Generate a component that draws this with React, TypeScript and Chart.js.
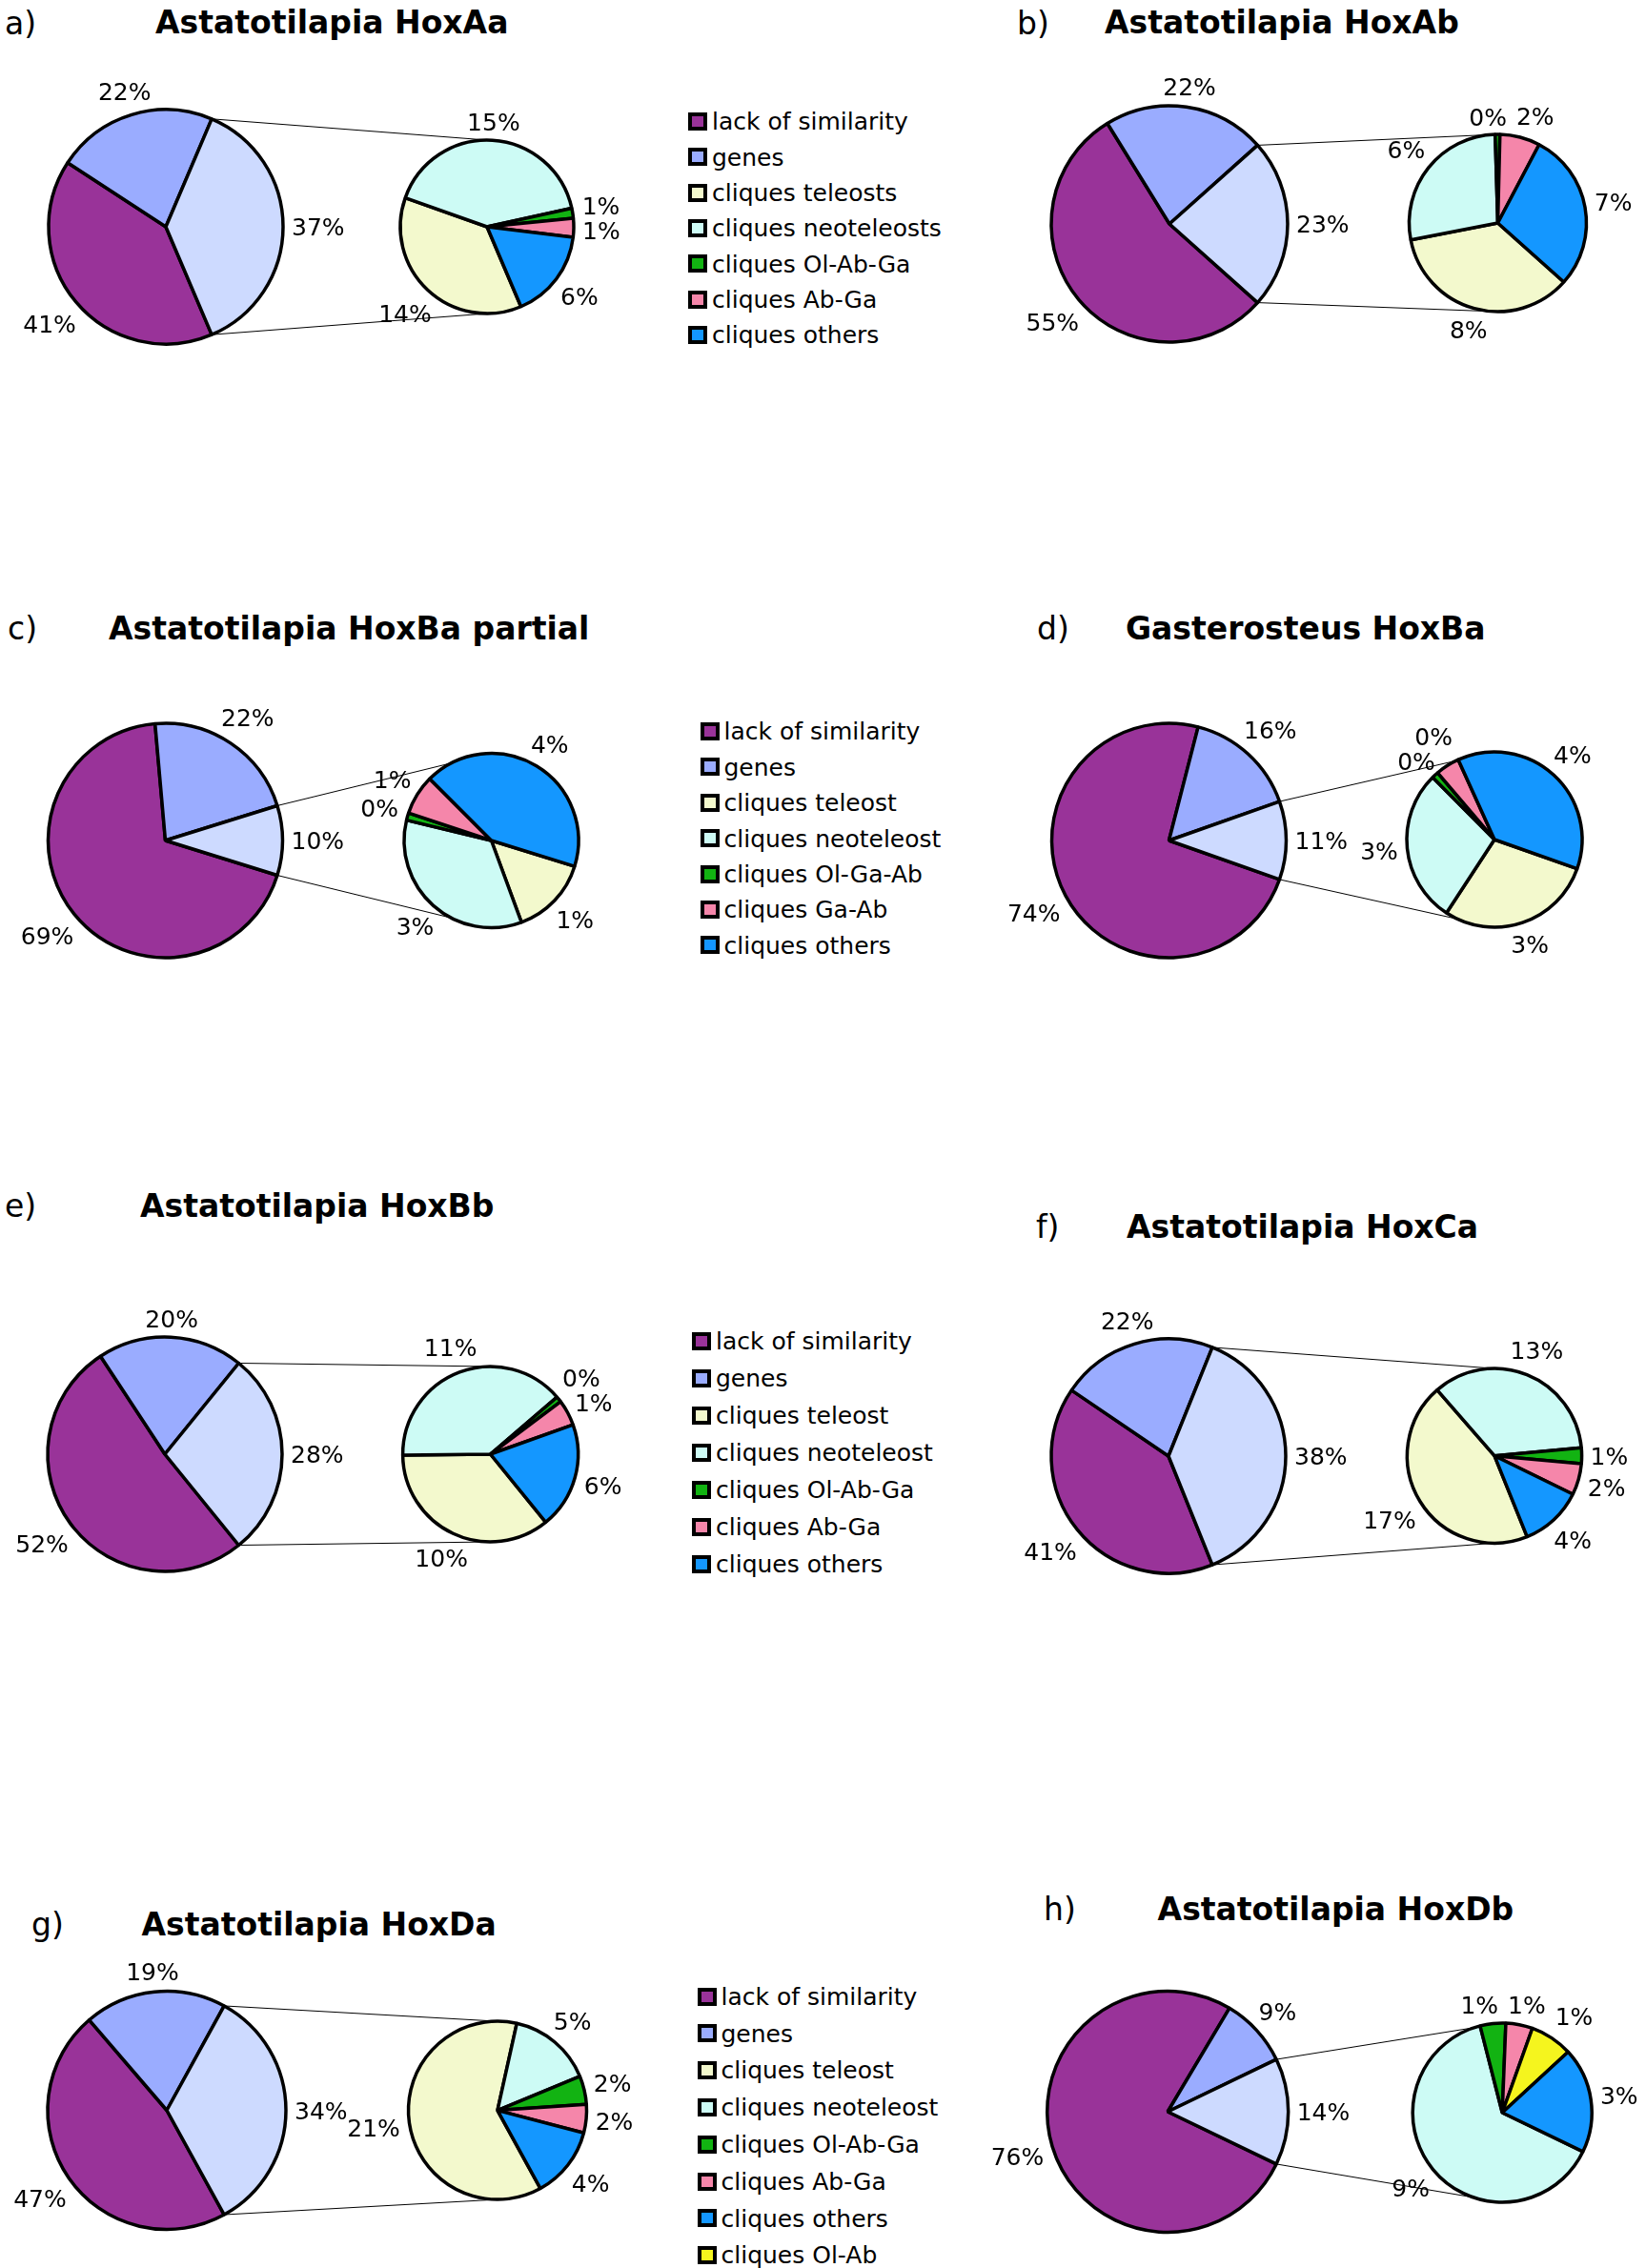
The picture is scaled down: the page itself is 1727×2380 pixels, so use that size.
import React, { useEffect, useRef } from "react";
import { Chart, registerables } from "chart.js";

Chart.register(...registerables);

const FONT = "'DejaVu Sans', Verdana, sans-serif";

// ---------- data ----------
const mainCategories = ["lack of similarity", "genes", "cliques"];

// a) Astatotilapia HoxAa
const mainA = [40.6, 22.2, 37.2];
const subCatsA = ["cliques teleosts", "cliques neoteleosts", "cliques Ol-Ab-Ga", "cliques Ab-Ga", "cliques others"];
const subA = [13.7, 15.3, 0.7, 1.3, 6.2];

// b) Astatotilapia HoxAb
const mainB = [54.6, 22.2, 23.2];
const subCatsB = ["cliques teleosts", "cliques neoteleosts", "cliques Ol-Ab-Ga", "cliques Ab-Ga", "cliques others"];
const subB = [8.2, 6.4, 0.2, 1.7, 6.7];

// c) Astatotilapia HoxBa partial
const mainC = [68.8, 21.6, 9.6];
const subCatsC = ["cliques teleost", "cliques neoteleost", "cliques Ol-Ga-Ab", "cliques Ga-Ab", "cliques others"];
const subC = [1.4, 3.3, 0.13, 0.71, 4.06];

// d) Gasterosteus HoxBa
const mainD = [73.6, 15.6, 10.8];
const subCatsD = ["cliques teleost", "cliques neoteleost", "cliques Ol-Ga-Ab", "cliques Ga-Ab", "cliques others"];
const subD = [3.1, 3.05, 0.13, 0.48, 4.0];

// e) Astatotilapia HoxBb
const mainE = [51.6, 20.1, 28.3];
const subCatsE = ["cliques teleost", "cliques neoteleost", "cliques Ol-Ab-Ga", "cliques Ab-Ga", "cliques others"];
const subE = [10.1, 11.0, 0.3, 1.35, 5.55];

// f) Astatotilapia HoxCa
const mainF = [40.6, 21.6, 37.8];
const subCatsF = ["cliques teleost", "cliques neoteleost", "cliques Ol-Ab-Ga", "cliques Ab-Ga", "cliques others"];
const subF = [16.9, 13.2, 1.1, 2.2, 4.4];

// g) Astatotilapia HoxDa
const mainG = [46.7, 19.3, 34.0];
const subCatsG = ["cliques teleost", "cliques neoteleost", "cliques Ol-Ab-Ga", "cliques Ab-Ga", "cliques others"];
const subG = [20.9, 5.2, 1.75, 1.75, 4.4];

// h) Astatotilapia HoxDb
const mainH = [76.4, 9.3, 14.3];
const subCatsH = ["cliques neoteleost", "cliques Ol-Ab-Ga", "cliques Ab-Ga", "cliques Ol-Ab", "cliques others"];
const subH = [9.14, 0.66, 0.69, 1.1, 2.72];

// legends
const legendA = ["lack of similarity", "genes", "cliques teleosts", "cliques neoteleosts", "cliques Ol-Ab-Ga", "cliques Ab-Ga", "cliques others"];
const legendC = ["lack of similarity", "genes", "cliques teleost", "cliques neoteleost", "cliques Ol-Ga-Ab", "cliques Ga-Ab", "cliques others"];
const legendE = ["lack of similarity", "genes", "cliques teleost", "cliques neoteleost", "cliques Ol-Ab-Ga", "cliques Ab-Ga", "cliques others"];
const legendG = ["lack of similarity", "genes", "cliques teleost", "cliques neoteleost", "cliques Ol-Ab-Ga", "cliques Ab-Ga", "cliques others", "cliques Ol-Ab"];

// ---------- styles ----------
const COLORS: Record<string, string> = {
  "lack of similarity": "#993399",
  genes: "#9AACFF",
  cliques: "#CDDAFF",
  "cliques teleosts": "#F3F9CD",
  "cliques teleost": "#F3F9CD",
  "cliques neoteleosts": "#CDFBF5",
  "cliques neoteleost": "#CDFBF5",
  "cliques Ol-Ab-Ga": "#12B312",
  "cliques Ol-Ga-Ab": "#12B312",
  "cliques Ab-Ga": "#F586AA",
  "cliques Ga-Ab": "#F586AA",
  "cliques others": "#1497FF",
  "cliques Ol-Ab": "#F5F51E",
};

type PieGeom = { cx: number; cy: number; r: number };
type PanelCfg = {
  id: string;
  box: { x: number; y: number; w: number; h: number };
  main: PieGeom;
  sub: PieGeom;
  mainData: number[];
  subCats: string[];
  subData: number[];
  letter: { t: string; x: number; base: number };
  title: { t: string; x: number; base: number };
  legend?: { cats: string[]; x: number; y0: number; dy: number };
};

const panels: PanelCfg[] = [
  {
    id: "a", box: { x: 0, y: 50, w: 720, h: 350 },
    main: { cx: 174, cy: 238, r: 123 }, sub: { cx: 511, cy: 238, r: 91 },
    mainData: mainA, subCats: subCatsA, subData: subA,
    letter: { t: "a)", x: 5, base: 36 }, title: { t: "Astatotilapia HoxAa", x: 163, base: 35 },
    legend: { cats: legendA, x: 722, y0: 127.5, dy: 37.3 },
  },
  {
    id: "b", box: { x: 1020, y: 50, w: 707, h: 350 },
    main: { cx: 1227, cy: 235, r: 124 }, sub: { cx: 1571.5, cy: 234, r: 93 },
    mainData: mainB, subCats: subCatsB, subData: subB,
    letter: { t: "b)", x: 1067, base: 36 }, title: { t: "Astatotilapia HoxAb", x: 1159, base: 35 },
  },
  {
    id: "c", box: { x: 0, y: 690, w: 730, h: 380 },
    main: { cx: 173.5, cy: 882, r: 123 }, sub: { cx: 515.5, cy: 882, r: 91.5 },
    mainData: mainC, subCats: subCatsC, subData: subC,
    letter: { t: "c)", x: 8, base: 671 }, title: { t: "Astatotilapia HoxBa partial", x: 114, base: 671 },
    legend: { cats: legendC, x: 734.5, y0: 767.5, dy: 37.4 },
  },
  {
    id: "d", box: { x: 1020, y: 690, w: 707, h: 380 },
    main: { cx: 1226.5, cy: 882, r: 123 }, sub: { cx: 1568, cy: 881, r: 92 },
    mainData: mainD, subCats: subCatsD, subData: subD,
    letter: { t: "d)", x: 1088, base: 671 }, title: { t: "Gasterosteus HoxBa", x: 1181, base: 671 },
  },
  {
    id: "e", box: { x: 0, y: 1340, w: 720, h: 380 },
    main: { cx: 173, cy: 1526, r: 123 }, sub: { cx: 514.6, cy: 1526, r: 92 },
    mainData: mainE, subCats: subCatsE, subData: subE,
    letter: { t: "e)", x: 5, base: 1277 }, title: { t: "Astatotilapia HoxBb", x: 147, base: 1277 },
    legend: { cats: legendE, x: 726, y0: 1407.6, dy: 39 },
  },
  {
    id: "f", box: { x: 1020, y: 1340, w: 707, h: 380 },
    main: { cx: 1226, cy: 1528, r: 123 }, sub: { cx: 1568, cy: 1527.7, r: 91.6 },
    mainData: mainF, subCats: subCatsF, subData: subF,
    letter: { t: "f)", x: 1087, base: 1299 }, title: { t: "Astatotilapia HoxCa", x: 1182, base: 1299 },
  },
  {
    id: "g", box: { x: 0, y: 2040, w: 725, h: 340 },
    main: { cx: 175, cy: 2214.5, r: 125 }, sub: { cx: 522, cy: 2214.6, r: 93.5 },
    mainData: mainG, subCats: subCatsG, subData: subG,
    letter: { t: "g)", x: 33, base: 2031 }, title: { t: "Astatotilapia HoxDa", x: 148.5, base: 2031 },
    legend: { cats: legendG, x: 731.5, y0: 2095, dy: 38.8 },
  },
  {
    id: "h", box: { x: 1020, y: 2040, w: 707, h: 340 },
    main: { cx: 1225.2, cy: 2216, r: 126.5 }, sub: { cx: 1576.2, cy: 2217, r: 94 },
    mainData: mainH, subCats: subCatsH, subData: subH,
    letter: { t: "h)", x: 1095, base: 2015 }, title: { t: "Astatotilapia HoxDb", x: 1214.6, base: 2015 },
  },
];

// ---------- plugins ----------
function makeLabelPlugin() {
  return {
    id: "pctLabels",
    afterDatasetsDraw(chart: any) {
      const meta = chart.getDatasetMeta(0);
      const data = chart.data.datasets[0].data as number[];
      const ctx = chart.ctx as CanvasRenderingContext2D;
      ctx.save();
      ctx.font = `25px ${FONT}`;
      const items = meta.data.map((arc: any, i: number) => {
        const p = arc.getProps(["x", "y", "startAngle", "endAngle", "outerRadius"], true);
        const text = Math.round(data[i]) + "%";
        const w = ctx.measureText(text).width;
        const mid = (p.startAngle + p.endAngle) / 2;
        const dx = Math.cos(mid);
        const dy = Math.sin(mid);
        const ext = (Math.abs(dx) * w) / 2 + (Math.abs(dy) * 18) / 2;
        const d = p.outerRadius + 9 + ext;
        return { text, w, h: 24, x: p.x + dx * d, y: p.y + dy * d };
      });
      for (let it = 0; it < 40; it++) {
        let moved = false;
        for (let i = 0; i < items.length; i++) {
          for (let j = i + 1; j < items.length; j++) {
            const a = items[i];
            const b = items[j];
            const ox = (a.w + b.w) / 2 + 10 - Math.abs(a.x - b.x);
            const oy = (a.h + b.h) / 2 + 2 - Math.abs(a.y - b.y);
            if (ox > 0.1 && oy > 0.1) {
              if (ox < oy) {
                const s = ((a.x <= b.x ? -1 : 1) * ox) / 2;
                a.x += s;
                b.x -= s;
              } else {
                const s = ((a.y <= b.y ? -1 : 1) * oy) / 2;
                a.y += s;
                b.y -= s;
              }
              moved = true;
            }
          }
        }
        if (!moved) break;
      }
      ctx.fillStyle = "#000";
      ctx.textAlign = "center";
      ctx.textBaseline = "alphabetic";
      items.forEach((t: any) => ctx.fillText(t.text, t.x, t.y + 9));
      ctx.restore();
    },
  };
}

function makeConnectorPlugin(main: Chart) {
  return {
    id: "connectors",
    beforeDatasetsDraw(chart: any) {
      const mArc: any = main.getDatasetMeta(0).data[2];
      const sArc: any = chart.getDatasetMeta(0).data[0];
      if (!mArc || !sArc) return;
      const m = mArc.getProps(["x", "y", "startAngle", "endAngle", "outerRadius"], true);
      const s = sArc.getProps(["x", "y", "outerRadius"], true);
      const ctx = chart.ctx as CanvasRenderingContext2D;
      ctx.save();
      ctx.strokeStyle = "#000";
      ctx.lineWidth = 1;
      ctx.beginPath();
      ctx.moveTo(m.x + m.outerRadius * Math.cos(m.startAngle), m.y + m.outerRadius * Math.sin(m.startAngle));
      ctx.lineTo(s.x, s.y - s.outerRadius);
      ctx.moveTo(m.x + m.outerRadius * Math.cos(m.endAngle), m.y + m.outerRadius * Math.sin(m.endAngle));
      ctx.lineTo(s.x, s.y + s.outerRadius);
      ctx.stroke();
      ctx.restore();
    },
  };
}

function pieConfig(cfg: PanelCfg, geom: PieGeom, labels: string[], values: number[], rotation: number, plugins: any[]) {
  const lx = geom.cx - cfg.box.x;
  const ly = geom.cy - cfg.box.y;
  const half = geom.r + 4;
  return {
    type: "pie" as const,
    data: {
      labels,
      datasets: [
        {
          data: values,
          backgroundColor: labels.map((l) => COLORS[l]),
          borderColor: "#000",
          borderWidth: 3.5,
          hoverOffset: 0,
          offset: 0,
        },
      ],
    },
    options: {
      responsive: false,
      maintainAspectRatio: false,
      animation: false as const,
      devicePixelRatio: 1,
      events: [] as any[],
      rotation,
      radius: geom.r,
      layout: {
        padding: {
          left: lx - half,
          right: cfg.box.w - (lx + half),
          top: ly - half,
          bottom: cfg.box.h - (ly + half),
        },
      },
      plugins: { legend: { display: false }, tooltip: { enabled: false }, title: { display: false } },
    },
    plugins,
  };
}

function Panel({ cfg }: { cfg: PanelCfg }) {
  const mainRef = useRef<HTMLCanvasElement>(null);
  const subRef = useRef<HTMLCanvasElement>(null);

  useEffect(() => {
    const d = cfg.mainData;
    const total = d.reduce((a, b) => a + b, 0);
    // the split slice is centred at 3 o'clock; the secondary pie starts where it ends
    const rotation = 90 - ((d[0] + d[1] + d[2] / 2) / total) * 360;
    const main = new Chart(
      mainRef.current!,
      pieConfig(cfg, cfg.main, mainCategories, d, rotation, [makeLabelPlugin()]) as any
    );
    const sub = new Chart(
      subRef.current!,
      pieConfig(cfg, cfg.sub, cfg.subCats, cfg.subData, rotation, [makeLabelPlugin(), makeConnectorPlugin(main)]) as any
    );
    return () => {
      sub.destroy();
      main.destroy();
    };
  }, [cfg]);

  const canvasStyle: React.CSSProperties = {
    position: "absolute",
    left: cfg.box.x,
    top: cfg.box.y,
    width: cfg.box.w,
    height: cfg.box.h,
  };
  const textTop = (base: number, fs: number) => base - 0.846 * fs;

  return (
    <>
      <div
        style={{
          position: "absolute",
          left: cfg.letter.x,
          top: textTop(cfg.letter.base, 33),
          fontSize: 33,
          lineHeight: "33px",
          whiteSpace: "nowrap",
        }}
      >
        {cfg.letter.t}
      </div>
      <div
        style={{
          position: "absolute",
          left: cfg.title.x,
          top: textTop(cfg.title.base, 33),
          fontSize: 33,
          fontWeight: "bold",
          lineHeight: "33px",
          whiteSpace: "nowrap",
        }}
      >
        {cfg.title.t}
      </div>
      {cfg.legend &&
        cfg.legend.cats.map((c, k) => {
          const cy = cfg.legend!.y0 + k * cfg.legend!.dy;
          return (
            <React.Fragment key={c}>
              <div
                style={{
                  position: "absolute",
                  left: cfg.legend!.x,
                  top: cy - 9.5,
                  width: 20,
                  height: 19,
                  boxSizing: "border-box",
                  border: "4px solid #000",
                  background: COLORS[c],
                }}
              />
              <div
                style={{
                  position: "absolute",
                  left: cfg.legend!.x + 25,
                  top: cy + 9 - 0.846 * 25,
                  fontSize: 25,
                  lineHeight: "25px",
                  whiteSpace: "nowrap",
                }}
              >
                {c}
              </div>
            </React.Fragment>
          );
        })}
      <canvas ref={mainRef} width={cfg.box.w} height={cfg.box.h} style={canvasStyle} />
      <canvas ref={subRef} width={cfg.box.w} height={cfg.box.h} style={canvasStyle} />
    </>
  );
}

export default function App() {
  useEffect(() => {
    document.body.style.margin = "0";
  }, []);
  return (
    <div
      style={{
        position: "absolute",
        left: 0,
        top: 0,
        width: 1727,
        height: 2380,
        background: "#fff",
        overflow: "hidden",
        fontFamily: FONT,
        color: "#000",
      }}
    >
      {panels.map((p) => (
        <Panel key={p.id} cfg={p} />
      ))}
    </div>
  );
}
